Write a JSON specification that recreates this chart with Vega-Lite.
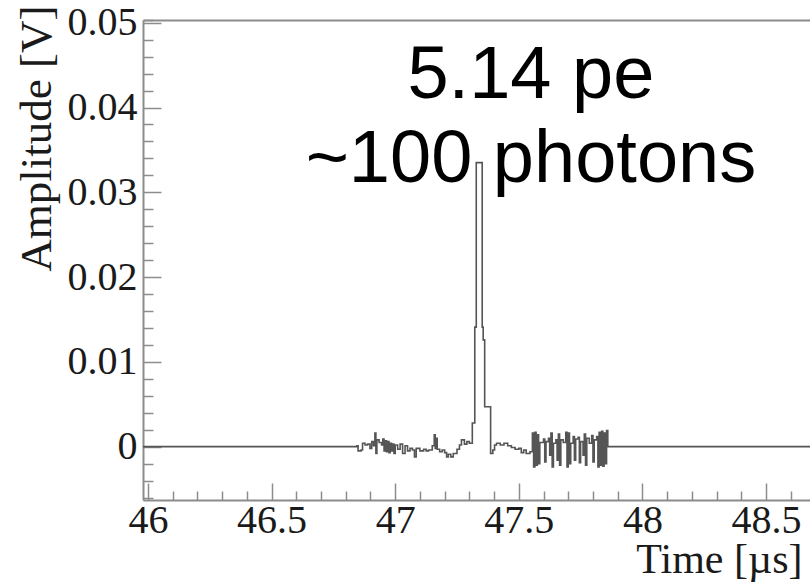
{
  "$schema": "https://vega.github.io/schema/vega-lite/v6.json",
  "width": 670,
  "height": 480,
  "autosize": "none",
  "padding": {"left": 143, "top": 20, "right": 0, "bottom": 85},
  "background": "white",
  "config": {
    "view": {"stroke": null},
    "axis": {
      "domainColor": "#8c8c8c",
      "domainWidth": 2,
      "tickColor": "#8c8c8c",
      "tickWidth": 1.5,
      "tickCount": 200,
      "labelFont": "Liberation Serif",
      "labelFontSize": 40,
      "labelColor": "#1a1a1a",
      "titleFont": "Liberation Serif",
      "titleFontSize": 42,
      "titleFontWeight": "normal",
      "titleColor": "#1a1a1a",
      "labelOverlap": false,
      "labelBound": false,
      "labelFlush": false
    }
  },
  "datasets": {
    "wave": [
      {"t": 45.98, "v": 0},
      {"t": 46.845, "v": 0.0001},
      {"t": 46.85, "v": -0.0005},
      {"t": 46.862, "v": -0.0004},
      {"t": 46.868, "v": 0.0004},
      {"t": 46.878, "v": 0.0002},
      {"t": 46.888, "v": 0.0003},
      {"t": 46.898, "v": -0.0002},
      {"t": 46.905, "v": 0.0006},
      {"t": 46.912, "v": 0.0001},
      {"t": 46.918, "v": 0.0016},
      {"t": 46.922, "v": -0.0008},
      {"t": 46.926, "v": 0.0008},
      {"t": 46.935, "v": 0.0005},
      {"t": 46.945, "v": 0.0002},
      {"t": 46.95, "v": 0.0009},
      {"t": 46.955, "v": -0.0005},
      {"t": 46.96, "v": 0.0007},
      {"t": 46.965, "v": -0.0006},
      {"t": 46.97, "v": 0.0006},
      {"t": 46.975, "v": -0.0007},
      {"t": 46.98, "v": 0.0004},
      {"t": 46.985, "v": -0.0005},
      {"t": 46.99, "v": 0.0003},
      {"t": 46.995, "v": -0.0008},
      {"t": 47.0, "v": 0.0002},
      {"t": 47.01, "v": -0.0003},
      {"t": 47.02, "v": 0.0003},
      {"t": 47.03, "v": -0.0008},
      {"t": 47.04, "v": 0.0001},
      {"t": 47.05, "v": -0.0005},
      {"t": 47.06, "v": -0.0002},
      {"t": 47.07, "v": -0.0004},
      {"t": 47.078, "v": -0.0012},
      {"t": 47.085, "v": -0.0002},
      {"t": 47.1, "v": -0.0005},
      {"t": 47.115, "v": -0.0003},
      {"t": 47.125, "v": -0.0005},
      {"t": 47.135, "v": -0.0004},
      {"t": 47.15, "v": 0.0001},
      {"t": 47.158, "v": 0.0014},
      {"t": 47.162, "v": -0.0002},
      {"t": 47.166, "v": 0.001},
      {"t": 47.17, "v": -0.0003},
      {"t": 47.18, "v": -0.0006},
      {"t": 47.19, "v": -0.0004},
      {"t": 47.2, "v": -0.0007},
      {"t": 47.208, "v": -0.0012},
      {"t": 47.215, "v": -0.0009},
      {"t": 47.225, "v": -0.0012},
      {"t": 47.235, "v": -0.0008},
      {"t": 47.25, "v": -0.0003},
      {"t": 47.26, "v": 0.0002},
      {"t": 47.268, "v": 0.0008},
      {"t": 47.28, "v": 0.0003},
      {"t": 47.29, "v": 0.0006},
      {"t": 47.3, "v": 0.0004},
      {"t": 47.312, "v": 0.0028},
      {"t": 47.322, "v": 0.0141},
      {"t": 47.328, "v": 0.0335},
      {"t": 47.352, "v": 0.0141},
      {"t": 47.356, "v": 0.0126},
      {"t": 47.362, "v": 0.0047},
      {"t": 47.386, "v": -0.0008},
      {"t": 47.395, "v": -0.0004},
      {"t": 47.402, "v": 0.0002},
      {"t": 47.41, "v": 0.0004},
      {"t": 47.425, "v": 0.0002},
      {"t": 47.44, "v": 0.0004},
      {"t": 47.455, "v": 0.0001},
      {"t": 47.47, "v": -0.0001},
      {"t": 47.485, "v": -0.0003},
      {"t": 47.5, "v": -0.0002},
      {"t": 47.51, "v": -0.0007},
      {"t": 47.52, "v": -0.0004},
      {"t": 47.53, "v": -0.0008},
      {"t": 47.545, "v": -0.0006},
      {"t": 47.555, "v": 0.0016},
      {"t": 47.56, "v": -0.0024},
      {"t": 47.565, "v": 0.0017},
      {"t": 47.57, "v": -0.0022},
      {"t": 47.575, "v": 0.0014},
      {"t": 47.58, "v": -0.002},
      {"t": 47.585, "v": 0.0005},
      {"t": 47.6, "v": 0.0009},
      {"t": 47.605, "v": -0.0018},
      {"t": 47.61, "v": 0.0006},
      {"t": 47.62, "v": 0.001},
      {"t": 47.625, "v": -0.001},
      {"t": 47.63, "v": 0.0016},
      {"t": 47.635, "v": -0.0024},
      {"t": 47.64, "v": 0.0004},
      {"t": 47.65, "v": 0.0008},
      {"t": 47.655, "v": -0.0016},
      {"t": 47.66, "v": 0.0015},
      {"t": 47.665, "v": -0.0022},
      {"t": 47.67, "v": 0.0008},
      {"t": 47.68, "v": 0.0005},
      {"t": 47.69, "v": 0.0017},
      {"t": 47.695, "v": -0.0024},
      {"t": 47.7, "v": 0.0016},
      {"t": 47.705, "v": -0.002},
      {"t": 47.71, "v": 0.0004},
      {"t": 47.72, "v": 0.0012},
      {"t": 47.725, "v": -0.0016},
      {"t": 47.73, "v": 0.0009},
      {"t": 47.74, "v": 0.0011},
      {"t": 47.745, "v": -0.0019},
      {"t": 47.75, "v": 0.0006},
      {"t": 47.76, "v": -0.001},
      {"t": 47.765, "v": 0.0015},
      {"t": 47.77, "v": -0.0022},
      {"t": 47.775, "v": 0.001},
      {"t": 47.785, "v": 0.0004},
      {"t": 47.795, "v": 0.0013},
      {"t": 47.8, "v": -0.0018},
      {"t": 47.805, "v": 0.0008},
      {"t": 47.815, "v": 0.0012},
      {"t": 47.82, "v": -0.0024},
      {"t": 47.825, "v": 0.0017},
      {"t": 47.83, "v": -0.0022},
      {"t": 47.835, "v": 0.0018},
      {"t": 47.84, "v": -0.0023},
      {"t": 47.845, "v": 0.0016},
      {"t": 47.85, "v": -0.002},
      {"t": 47.855, "v": 0.0019},
      {"t": 47.86, "v": 0},
      {"t": 48.69, "v": 0}
    ],
    "notes": [
      {"t": 47.549, "v": 0.0411, "label": "5.14 pe"},
      {"t": 47.549, "v": 0.0312, "label": "~100 photons"}
    ]
  },
  "layer": [
    {
      "data": {"name": "wave"},
      "mark": {"type": "line", "interpolate": "step-after", "color": "#555555", "strokeWidth": 1.6, "clip": true},
      "encoding": {
        "x": {
          "field": "t", "type": "quantitative",
          "scale": {"domain": [45.98, 48.69], "nice": false, "zero": false},
          "axis": {
            "values": [46.0, 46.1, 46.2, 46.3, 46.4, 46.5, 46.6, 46.7, 46.8, 46.9, 47.0, 47.1, 47.2, 47.3, 47.4, 47.5, 47.6, 47.7, 47.8, 47.9, 48.0, 48.1, 48.2, 48.3, 48.4, 48.5, 48.6],
            "tickCount": 200,
            "grid": false,
            "labelExpr": "abs(datum.value*2-round(datum.value*2))<0.001 ? format(datum.value, '~g') : ''",
            "tickSize": {"condition": {"test": "abs(datum.value*2-round(datum.value*2))<0.001", "value": -17}, "value": -9},
            "labelPadding": 17,
            "title": "Time [µs]",
            "titleX": 659,
            "titleY": 72,
            "titleAlign": "right",
            "titleBaseline": "alphabetic",
            "titleAnchor": null
          }
        },
        "y": {
          "field": "v", "type": "quantitative",
          "scale": {"domain": [-0.00629, 0.05032], "nice": false, "zero": false},
          "axis": {
            "values": [-0.006, -0.004, -0.002, 0, 0.002, 0.004, 0.006, 0.008, 0.01, 0.012, 0.014, 0.016, 0.018, 0.02, 0.022, 0.024, 0.026, 0.028, 0.03, 0.032, 0.034, 0.036, 0.038, 0.04, 0.042, 0.044, 0.046, 0.048, 0.05, 0.05031],
            "tickCount": 200,
            "grid": true,
            "gridColor": "#8c8c8c",
            "gridWidth": 2,
            "gridOpacity": {"condition": {"test": "datum.value > 0.0503", "value": 1}, "value": 0},
            "labelExpr": "abs(datum.value*100-round(datum.value*100))<0.001 ? format(datum.value, '~g') : ''",
            "tickSize": {"condition": {"test": "abs(datum.value*100-round(datum.value*100))<0.001", "value": -18}, "value": -10},
            "labelPadding": 24,
            "title": "Amplitude [V]",
            "titleFontSize": 45,
            "titleAngle": -90,
            "titleX": -93,
            "titleY": -15,
            "titleAlign": "right",
            "titleBaseline": "alphabetic",
            "titleAnchor": null
          }
        }
      }
    },
    {
      "data": {"name": "notes"},
      "mark": {"type": "text", "font": "Liberation Sans", "fontSize": 74, "align": "center", "baseline": "alphabetic", "color": "black"},
      "encoding": {
        "x": {"field": "t", "type": "quantitative"},
        "y": {"field": "v", "type": "quantitative"},
        "text": {"field": "label"}
      }
    }
  ]
}
